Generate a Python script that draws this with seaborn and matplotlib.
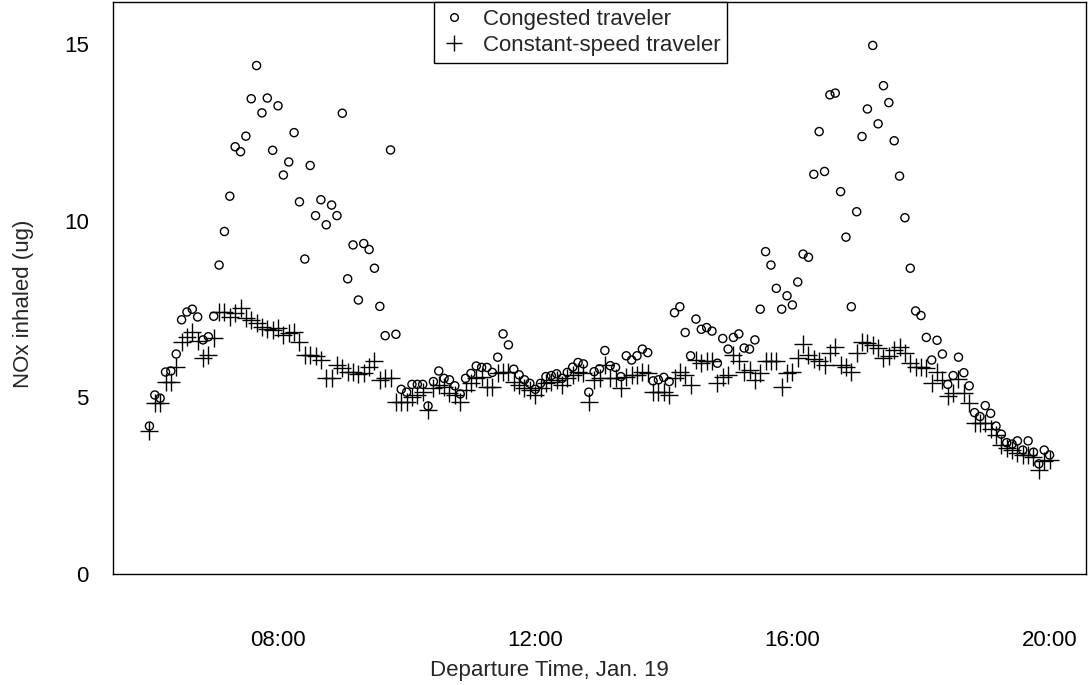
import pandas as pd
import numpy as np
import matplotlib
matplotlib.use("Agg")
import matplotlib.pyplot as plt
import matplotlib.dates as mdates
from matplotlib.lines import Line2D
import seaborn as sns

# departure times, every 5 minutes from 06:00 to 20:00 on Jan. 19
departure = pd.date_range("2000-01-19 06:00", "2000-01-19 20:00", freq="5min")

congested = [
    4.19, 5.07, 4.98, 5.72, 5.75, 6.23, 7.2, 7.42, 7.5, 7.28,
    6.63, 6.72, 7.3, 8.75, 9.7, 10.7, 12.1, 11.96, 12.4, 13.46,
    14.4, 13.06, 13.48, 12.0, 13.26, 11.3, 11.67, 12.5, 10.54, 8.92,
    11.57, 10.15, 10.6, 9.89, 10.45, 10.15, 13.05, 8.36, 9.32, 7.76,
    9.36, 9.19, 8.66, 7.58, 6.75, 12.01, 6.79, 5.23, 5.15, 5.37,
    5.37, 5.37, 4.76, 5.45, 5.75, 5.54, 5.5, 5.33, 5.1, 5.54,
    5.68, 5.89, 5.85, 5.85, 5.71, 6.14, 6.8, 6.49, 5.8, 5.64,
    5.5, 5.4, 5.23, 5.4, 5.59, 5.62, 5.67, 5.54, 5.71, 5.86,
    5.99, 5.95, 5.15, 5.73, 5.81, 6.33, 5.9, 5.85, 5.59, 6.18,
    6.06, 6.18, 6.37, 6.27, 5.47, 5.5, 5.57, 5.45, 7.4, 7.57,
    6.84, 6.18, 7.22, 6.93, 6.98, 6.88, 5.97, 6.67, 6.37, 6.7,
    6.8, 6.4, 6.37, 6.63, 7.5, 9.13, 8.75, 8.09, 7.5, 7.88,
    7.62, 8.27, 9.06, 8.97, 11.32, 12.53, 11.4, 13.57, 13.62, 10.83,
    9.54, 7.57, 10.26, 12.39, 13.17, 14.97, 12.75, 13.83, 13.35, 12.27,
    11.27, 10.09, 8.66, 7.45, 7.32, 6.7, 6.06, 6.62, 6.23, 5.37,
    5.62, 6.14, 5.7, 5.33, 4.57, 4.46, 4.77, 4.55, 4.19, 3.96,
    3.72, 3.68, 3.77, 3.51, 3.77, 3.45, 3.12, 3.51, 3.37,
]

constant = [
    4.05, 4.84, 4.84, 5.45, 5.45, 5.85, 6.58, 6.7, 6.85, 6.6,
    6.11, 6.2, 6.67, 7.43, 7.43, 7.29, 7.39, 7.53, 7.25, 7.2,
    7.1, 7.0, 6.95, 6.9, 6.97, 6.77, 6.82, 6.86, 6.57, 6.2,
    6.2, 6.16, 6.06, 5.54, 5.54, 5.92, 5.83, 5.73, 5.73, 5.67,
    5.69, 5.87, 6.02, 5.5, 5.54, 5.54, 4.88, 4.88, 4.88, 5.02,
    5.07, 5.16, 4.65, 5.26, 5.35, 5.3, 5.12, 5.07, 4.88, 5.21,
    5.4, 5.54, 5.59, 5.31, 5.31, 5.68, 5.73, 5.73, 5.45, 5.35,
    5.26, 5.21, 5.07, 5.26, 5.4, 5.45, 5.5, 5.35, 5.54, 5.64,
    5.73, 5.7, 4.88, 5.5, 5.54, 5.92, 5.54, 5.54, 5.26, 5.59,
    5.64, 5.63, 5.73, 5.68, 5.16, 5.16, 5.16, 5.07, 5.54, 5.73,
    5.64, 5.35, 6.06, 5.97, 6.02, 6.02, 5.4, 5.59, 5.64, 6.2,
    6.02, 5.73, 5.78, 5.5, 5.68, 6.02, 6.02, 6.04, 5.31, 5.68,
    5.73, 6.11, 6.5, 6.19, 6.08, 6.02, 5.92, 6.26, 6.44, 5.92,
    5.87, 5.73, 6.25, 6.58, 6.53, 6.49, 6.39, 6.11, 6.16, 6.35,
    6.42, 6.25, 5.97, 5.86, 5.86, 5.83, 5.4, 5.73, 5.5, 5.04,
    5.12, 5.52, 5.14, 4.83, 4.27, 4.27, 4.27, 4.1, 3.94, 3.65,
    3.56, 3.51, 3.42, 3.37, 3.37, 3.32, 2.95, 3.2, 3.23,
]

df = pd.DataFrame({"time": departure, "congested": congested, "constant": constant})

sns.set_style("white")
plt.rcParams["font.family"] = ["Liberation Sans", "DejaVu Sans"]

FS = 16

fig = plt.figure(figsize=(10.89, 6.85), dpi=100)
ax = fig.add_axes([113 / 1089, 1 - 574 / 685, 973 / 1089, 572 / 685])

sns.scatterplot(data=df, x="time", y="congested", marker="o", s=34,
                facecolor="none", edgecolor="black", linewidth=1.0, ax=ax)
sns.scatterplot(data=df, x="time", y="constant", marker="+", s=150,
                color="black", linewidth=1.0, ax=ax)

ax.set_xlim(pd.Timestamp("2000-01-19 05:26"), pd.Timestamp("2000-01-19 20:34"))
ax.set_ylim(0, 16.2)
ax.set_xticks(pd.to_datetime(["2000-01-19 08:00", "2000-01-19 12:00",
                              "2000-01-19 16:00", "2000-01-19 20:00"]))
ax.xaxis.set_major_formatter(mdates.DateFormatter("%H:%M"))
ax.set_yticks([0, 5, 10, 15])

for sp in ax.spines.values():
    sp.set_visible(True)
    sp.set_color("black")
    sp.set_linewidth(1.0)

ax.tick_params(axis="both", direction="out", length=8.5, width=0.9,
               colors="black", labelsize=FS)
ax.tick_params(axis="x", pad=32)
ax.tick_params(axis="y", pad=9)

ax.set_xlabel("Departure Time, Jan. 19", fontsize=FS)
ax.set_ylabel("NOx inhaled (ug)", fontsize=FS)
ax.xaxis.set_label_coords(0.448, -0.150)
ax.yaxis.set_label_coords(-0.081, 0.472)

handles = [
    Line2D([], [], marker="o", linestyle="none", markerfacecolor="none",
           markeredgecolor="black", markersize=5.5, markeredgewidth=1.0),
    Line2D([], [], marker="+", linestyle="none", color="black",
           markersize=12, markeredgewidth=1.0),
]
leg = ax.legend(handles, ["Congested traveler", "Constant-speed traveler"],
                loc="upper center", bbox_to_anchor=(0.4805, 1.0), fontsize=FS,
                frameon=True, fancybox=False, framealpha=1, edgecolor="black",
                borderpad=0.3, labelspacing=0.25, handletextpad=0.7,
                handlelength=1.2, borderaxespad=0)
leg.get_frame().set_linewidth(1.0)

fig.savefig("out.png", dpi=100)
